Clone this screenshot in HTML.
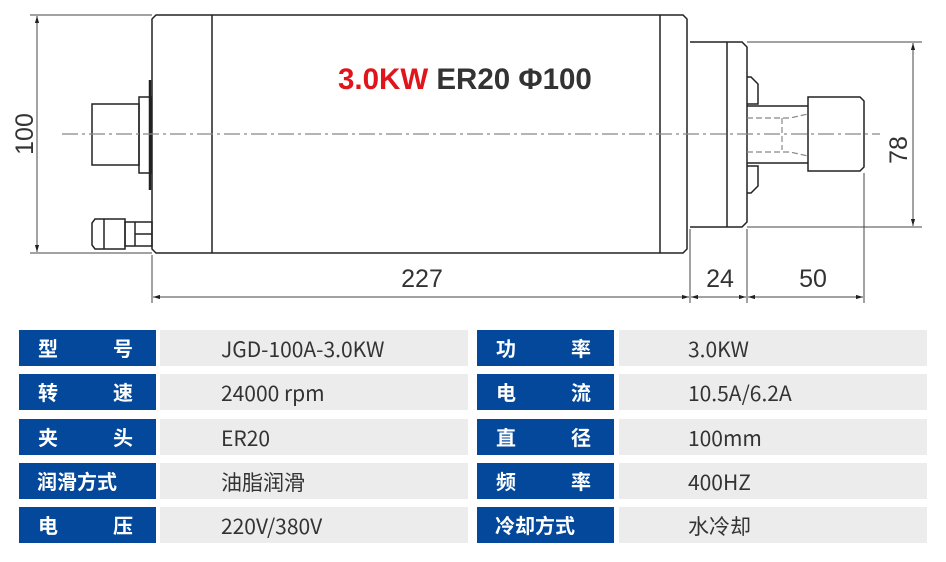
<!DOCTYPE html>
<html><head><meta charset="utf-8"><style>
body{margin:0;width:946px;height:562px;background:#fff;position:relative;overflow:hidden;font-family:"Liberation Sans","Noto Sans CJK SC",sans-serif}
.b{position:absolute;background:#03489b;color:#fff;font-weight:bold;font-size:20px;height:36px;line-height:36px;box-sizing:border-box;padding:0 23px 0 19px;display:flex;justify-content:space-between;font-family:"Noto Sans CJK SC",sans-serif}
.g{position:absolute;background:#ececec;color:#333;font-size:21px;height:36px;line-height:38px;box-sizing:border-box;font-family:"Noto Sans CJK SC","Liberation Sans",sans-serif}
</style></head><body>
<svg width="946" height="320" style="position:absolute;left:0;top:0" font-family="Liberation Sans, sans-serif">
<defs><marker id="a" viewBox="0 0 10 10" refX="10" refY="5" markerWidth="10" markerHeight="7" orient="auto-start-reverse"><path d="M0,2 L10,5 L0,8z" fill="#222"/></marker></defs>
<g stroke="#222" fill="none" stroke-width="1.5">
<path d="M156,15 H683 L687,19 V249 L683,253 H156 L152,249 V19 Z"/>
<line x1="212" y1="15" x2="212" y2="253"/><line x1="660" y1="15" x2="660" y2="253"/>
<path d="M690,42 H742 L747,47 V222 L742,227 H690"/>
<line x1="727" y1="42" x2="727" y2="227"/>
<path d="M747,77 H751 L758,84 V104 H747 M747,193 H751 L758,186 V166 H747"/>
<path d="M747,106 H808 M747,163 H808"/>
<path d="M808,97 H860 L864,101 V167 L860,171 H808 Z"/>
<path d="M140,80 V190" stroke-width="2.5" transform="translate(10,0)"/>
<rect x="139" y="97" width="12" height="76"/>
<rect x="92" y="104" width="47" height="61"/>
<path d="M95,219 H125 V249 H95 L92,245 V223 Z"/><line x1="104" y1="219" x2="104" y2="249"/>
<rect x="125" y="222" width="27" height="24"/><line x1="135" y1="234" x2="152" y2="234"/><line x1="135" y1="222" x2="135" y2="246"/>
</g>
<g stroke="#888" fill="none" stroke-width="1.2">
<path d="M747,118 H790 L808,114 M747,152 H790 L808,156 M782,118 V150" stroke-dasharray="6,3"/>
<line x1="62" y1="134" x2="880" y2="134" stroke-dasharray="16,4,3,4"/>
</g>
<g stroke="#444" stroke-width="1" fill="none">
<line x1="30" y1="15" x2="152" y2="15"/><line x1="30" y1="253" x2="152" y2="253"/>
<line x1="37" y1="16" x2="37" y2="252" marker-start="url(#a)" marker-end="url(#a)"/>
<line x1="747" y1="42" x2="922" y2="42"/><line x1="747" y1="227" x2="922" y2="227"/>
<line x1="913" y1="43" x2="913" y2="226" marker-start="url(#a)" marker-end="url(#a)"/>
<line x1="152" y1="255" x2="152" y2="303"/><line x1="690" y1="229" x2="690" y2="303"/>
<line x1="747" y1="229" x2="747" y2="303"/><line x1="864" y1="173" x2="864" y2="303"/>
<line x1="153" y1="297" x2="689" y2="297" marker-start="url(#a)" marker-end="url(#a)"/>
<line x1="691" y1="297" x2="746" y2="297" marker-start="url(#a)" marker-end="url(#a)"/>
<line x1="748" y1="297" x2="863" y2="297" marker-start="url(#a)" marker-end="url(#a)"/>
</g>
<g fill="#333" font-size="25">
<text x="422" y="287" text-anchor="middle">227</text>
<text x="720" y="287" text-anchor="middle">24</text>
<text x="813" y="287" text-anchor="middle">50</text>
<text transform="translate(33,134) rotate(-90)" text-anchor="middle">100</text>
<text transform="translate(907,150) rotate(-90)" text-anchor="middle">78</text>
</g>
<text x="338" y="89" font-size="29.5" font-weight="bold" fill="#333"><tspan fill="#e0141b">3.0KW</tspan> ER20 Φ100</text>
</svg>
<div class="b" style="left:19px;top:330px;width:137px"><span>型</span><span>号</span></div>
<div class="b" style="left:19px;top:374px;width:137px"><span>转</span><span>速</span></div>
<div class="b" style="left:19px;top:419px;width:137px"><span>夹</span><span>头</span></div>
<div class="b" style="left:19px;top:463px;width:137px;padding-left:18px"><span>润滑方式</span></div>
<div class="b" style="left:19px;top:507px;width:137px"><span>电</span><span>压</span></div>
<div class="g" style="left:160px;top:330px;width:308px;padding-left:61px">JGD-100A-3.0KW</div>
<div class="g" style="left:160px;top:374px;width:308px;padding-left:61px">24000 rpm</div>
<div class="g" style="left:160px;top:419px;width:308px;padding-left:61px">ER20</div>
<div class="g" style="left:160px;top:463px;width:308px;padding-left:61px">油脂润滑</div>
<div class="g" style="left:160px;top:507px;width:308px;padding-left:61px">220V/380V</div>
<div class="b" style="left:477px;top:330px;width:137px"><span>功</span><span>率</span></div>
<div class="b" style="left:477px;top:374px;width:137px"><span>电</span><span>流</span></div>
<div class="b" style="left:477px;top:419px;width:137px"><span>直</span><span>径</span></div>
<div class="b" style="left:477px;top:463px;width:137px"><span>频</span><span>率</span></div>
<div class="b" style="left:477px;top:507px;width:137px;padding-left:18px"><span>冷却方式</span></div>
<div class="g" style="left:619px;top:330px;width:308px;padding-left:69px">3.0KW</div>
<div class="g" style="left:619px;top:374px;width:308px;padding-left:69px">10.5A/6.2A</div>
<div class="g" style="left:619px;top:419px;width:308px;padding-left:69px">100mm</div>
<div class="g" style="left:619px;top:463px;width:308px;padding-left:69px">400HZ</div>
<div class="g" style="left:619px;top:507px;width:308px;padding-left:69px">水冷却</div>
</body></html>
